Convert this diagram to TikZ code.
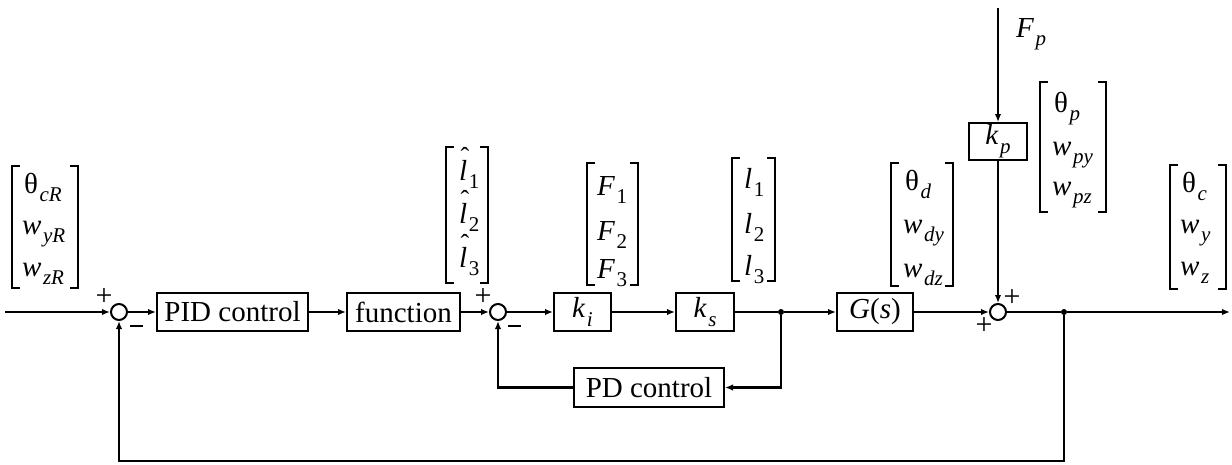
\documentclass[tikz,border=0pt]{standalone}
\usepackage{fontspec}
\setmainfont{Liberation Serif}
\usetikzlibrary{arrows.meta}
% italic subscript set a little lower and smaller than the main text
\newcommand{\sbs}[1]{\kern1.5pt\raisebox{-0.3em}{\fontsize{21}{21}\selectfont\itshape #1}}
% italic l with a circumflex above it
\newcommand{\lh}{\textit{l}\llap{\raisebox{0.5em}{\fontsize{26}{26}\selectfont ˆ}\kern-2pt}}
% square bracket pair: left x, right x, top y, bottom y
\newcommand{\brkt}[4]{%
  \draw[brk] (#1+8,#3) -- (#1,#3) -- (#1,#4) -- (#1+8,#4);
  \draw[brk] (#2-8,#3) -- (#2,#3) -- (#2,#4) -- (#2-8,#4);}
\begin{document}
\begin{tikzpicture}[x=1pt,y=-1pt,
  font=\fontsize{29}{34}\selectfont,
  wire/.style={line width=2.2pt},
  sig/.style={line width=2.2pt,-{Latex[length=8pt,width=6.5pt]}},
  blk/.style={draw,line width=2pt,minimum height=38pt,inner sep=0pt},
  sum/.style={circle,draw,line width=2pt,minimum size=16pt,inner sep=0pt},
  junc/.style={circle,fill,minimum size=6pt,inner sep=0pt},
  sgn/.style={font=\fontsize{30}{30}\selectfont,inner sep=0pt},
  brk/.style={line width=1.4pt},
  ent/.style={anchor=base west,inner sep=0pt}]
\useasboundingbox (0,0) rectangle (1232,464);

% forward path
\coordinate (in) at (5,312);
\node[sum] (s1) at (119,312) {};
\node[blk,minimum width=151pt] (pid) at (232.5,312) {PID control};
\node[blk,minimum width=113pt] (fun) at (403.5,312) {function};
\node[sum] (s2) at (498,312) {};
\node[blk,minimum width=57pt] (ki) at (582.5,312) {\textit{k}\sbs{i}};
\node[blk,minimum width=58pt] (ks) at (705,312) {\textit{k}\sbs{s}};
\node[junc] (d1) at (781,312) {};
\node[blk,minimum width=76pt] (G) at (875,312) {\textit{G}(\textit{s})};
\node[sum] (s3) at (998,312) {};
\node[junc] (d2) at (1064,312) {};
\coordinate (out) at (1230,312);

% disturbance path
\coordinate (fp) at (998,8);
\node[blk,minimum width=58pt,minimum height=37pt] (kp) at (998,141.5) {\textit{k}\sbs{p}};

% inner and outer feedback
\node[blk,minimum width=150pt,minimum height=39pt] (pd) at (649,387.5) {PD control};
\coordinate (fbl) at (119,461);

\draw[sig] (in) -- (s1);
\draw[sig] (s1) -- (pid);
\draw[sig] (pid) -- (fun);
\draw[sig] (fun) -- (s2);
\draw[sig] (s2) -- (ki);
\draw[sig] (ki) -- (ks);
\draw[wire] (ks) -- (d1);
\draw[sig] (d1) -- (G);
\draw[sig] (G) -- (s3);
\draw[wire] (s3) -- (d2);
\draw[sig] (d2) -- (out);
\draw[sig] (fp) -- (kp);
\draw[sig] (kp) -- (s3);
\draw[sig] (d1) |- (pd);
\draw[sig] (pd) -| (s2);
\draw[sig] (d2) |- (fbl) -- (s1);

% signs at the summing points
\node[sgn] (p1) at (104,297) {+};
\node[inner sep=0pt] (m1) at (136,326) {\rule{13pt}{2.8pt}};
\node[sgn] (p2) at (483,297) {+};
\node[inner sep=0pt] (m2) at (514,326) {\rule{13pt}{2.8pt}};
\node[sgn] (p3) at (1012,298) {+};
\node[sgn] (p4) at (984,326) {+};

% disturbance label
\node[ent] (fplab) at (1016,37) {\textit{F}\sbs{p}};

% signal vectors
\brkt{12}{78}{166}{288}
\node[ent] (r1a) at (24,193) {θ\sbs{cR}};
\node[ent] (r1b) at (22,234) {\textit{w}\sbs{yR}};
\node[ent] (r1c) at (22,276) {\textit{w}\sbs{zR}};

\brkt{446}{488}{147}{283}
\node[ent] (r2a) at (459,180) {\lh\sbs{\upshape 1}};
\node[ent] (r2b) at (459,223) {\lh\sbs{\upshape 2}};
\node[ent] (r2c) at (459,267) {\lh\sbs{\upshape 3}};

\brkt{587}{638}{163}{285}
\node[ent] (r3a) at (597,195) {\textit{F}\sbs{\upshape 1}};
\node[ent] (r3b) at (597,240) {\textit{F}\sbs{\upshape 2}};
\node[ent] (r3c) at (597,278) {\textit{F}\sbs{\upshape 3}};

\brkt{732}{775}{158}{281}
\node[ent] (r4a) at (744,188) {\textit{l}\sbs{\upshape 1}};
\node[ent] (r4b) at (744,233) {\textit{l}\sbs{\upshape 2}};
\node[ent] (r4c) at (744,275) {\textit{l}\sbs{\upshape 3}};

\brkt{891}{953}{163}{286}
\node[ent] (r5a) at (905,190) {θ\sbs{d}};
\node[ent] (r5b) at (903,233) {\textit{w}\sbs{dy}};
\node[ent] (r5c) at (903,277) {\textit{w}\sbs{dz}};

\brkt{1040}{1106}{82}{212}
\node[ent] (r6a) at (1054,112) {θ\sbs{p}};
\node[ent] (r6b) at (1052,155) {\textit{w}\sbs{py}};
\node[ent] (r6c) at (1052,195) {\textit{w}\sbs{pz}};

\brkt{1170}{1226}{165}{289}
\node[ent] (r7a) at (1182,192) {θ\sbs{c}};
\node[ent] (r7b) at (1180,233) {\textit{w}\sbs{y}};
\node[ent] (r7c) at (1180,275) {\textit{w}\sbs{z}};
\end{tikzpicture}
\end{document}
